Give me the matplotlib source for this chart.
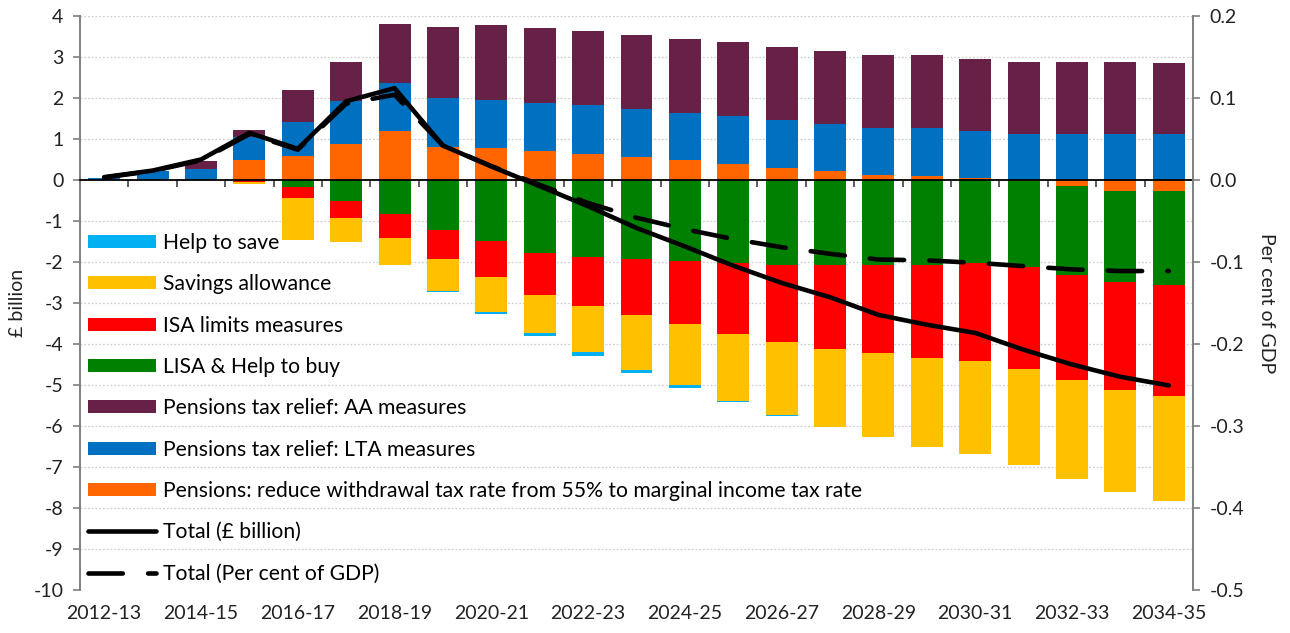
import numpy as np
import matplotlib
matplotlib.use("Agg")
import matplotlib.pyplot as plt

plt.rcParams["font.family"] = ["Lato", "DejaVu Sans"]
plt.rcParams["axes.unicode_minus"] = False

years = [
    "2012-13", "2013-14", "2014-15", "2015-16", "2016-17", "2017-18",
    "2018-19", "2019-20", "2020-21", "2021-22", "2022-23", "2023-24",
    "2024-25", "2025-26", "2026-27", "2027-28", "2028-29", "2029-30",
    "2030-31", "2031-32", "2032-33", "2033-34", "2034-35",
]

# £ billion
help_to_save = [0, 0, 0, 0, 0, 0, 0, -0.02, -0.07, -0.07, -0.10, -0.07,
                -0.07, -0.02, -0.02, 0, 0, 0, 0, 0, 0, 0, 0]
savings_allowance = [0, 0, 0, -0.03, -1.04, -0.58, -0.66, -0.78, -0.85, -0.93,
                     -1.12, -1.34, -1.49, -1.65, -1.78, -1.92, -2.05, -2.16,
                     -2.27, -2.36, -2.43, -2.50, -2.58]
isa_limits = [0, 0, 0, -0.06, -0.25, -0.40, -0.57, -0.71, -0.88, -1.01, -1.20,
              -1.37, -1.54, -1.72, -1.88, -2.03, -2.15, -2.27, -2.39, -2.47,
              -2.56, -2.63, -2.71]
lisa_help_to_buy = [0, 0, 0, 0, -0.18, -0.52, -0.84, -1.21, -1.48, -1.79, -1.87,
                    -1.92, -1.98, -2.03, -2.07, -2.08, -2.08, -2.07, -2.02,
                    -2.11, -2.17, -2.22, -2.29]
pensions_aa = [0, 0, 0.19, 0.16, 0.78, 0.95, 1.43, 1.72, 1.82, 1.82, 1.80, 1.80,
               1.80, 1.80, 1.77, 1.77, 1.77, 1.77, 1.75, 1.75, 1.75, 1.75, 1.72]
pensions_lta = [0.06, 0.22, 0.27, 0.56, 0.83, 1.05, 1.17, 1.19, 1.16, 1.17, 1.19,
                1.17, 1.14, 1.17, 1.17, 1.14, 1.14, 1.17, 1.14, 1.13, 1.13,
                1.13, 1.13]
pensions_withdrawal = [0, 0, 0, 0.50, 0.59, 0.88, 1.20, 0.81, 0.79, 0.71, 0.64,
                       0.57, 0.49, 0.40, 0.30, 0.23, 0.13, 0.10, 0.06, -0.02,
                       -0.14, -0.26, -0.26]
total_bn = [0.07, 0.23, 0.50, 1.15, 0.76, 1.92, 2.24, 0.84, 0.33, -0.15, -0.64,
            -1.17, -1.62, -2.09, -2.51, -2.86, -3.29, -3.53, -3.73, -4.14,
            -4.50, -4.80, -5.01]
# per cent of GDP (right axis)
total_gdp = [0.003, 0.011, 0.024, 0.056, 0.037, 0.093, 0.104, 0.042, 0.017,
             -0.006, -0.028, -0.046, -0.060, -0.072, -0.082, -0.090, -0.097,
             -0.098, -0.101, -0.105, -0.109, -0.111, -0.111]

series = [
    ("Help to save", help_to_save, "#00B0F0"),
    ("Savings allowance", savings_allowance, "#FFC000"),
    ("ISA limits measures", isa_limits, "#FF0000"),
    ("LISA & Help to buy", lisa_help_to_buy, "#008000"),
    ("Pensions tax relief: AA measures", pensions_aa, "#672146"),
    ("Pensions tax relief: LTA measures", pensions_lta, "#0070C0"),
    ("Pensions: reduce withdrawal tax rate from 55% to marginal income tax rate",
     pensions_withdrawal, "#FF6600"),
]
# stacking order outwards from zero
stack_order = [6, 5, 4, 3, 2, 1, 0]

W, H = 1290, 633
fig = plt.figure(figsize=(W / 100, H / 100), dpi=100)
ax = fig.add_axes([80 / W, 1 - 590 / H, 1113 / W, 574 / H])
ax2 = ax.twinx()

x = np.arange(len(years))
pos_base = np.zeros(len(years))
neg_base = np.zeros(len(years))
handles = {}
for i in stack_order:
    label, vals, col = series[i]
    v = np.array(vals, dtype=float)
    bottom = np.where(v >= 0, pos_base, neg_base)
    bars = ax.bar(x, v, 0.66, bottom=bottom, color=col, label=label,
                  linewidth=0, zorder=2)
    handles[i] = bars
    pos_base = pos_base + np.where(v >= 0, v, 0)
    neg_base = neg_base + np.where(v < 0, v, 0)

(l1,) = ax2.plot(x, total_bn, color="black", lw=3.3, solid_capstyle="round",
                 solid_joinstyle="round", label="Total (£ billion)",
                 transform=ax.transData, zorder=4)
(l2,) = ax2.plot(x, total_gdp, color="black", lw=3.3, dashes=(7.5, 5.5),
                 dash_capstyle="round", label="Total (Per cent of GDP)",
                 zorder=3)

ax.set_xlim(-0.5, len(years) - 0.5)
ax.set_ylim(-10, 4)
ax2.set_ylim(-0.5, 0.2)
ax.set_yticks(np.arange(-10, 5, 1))
rticks = np.round(np.arange(-0.5, 0.21, 0.1), 1) + 0.0
ax2.set_yticks(rticks)
ax2.set_yticklabels([f"{t:.1f}" if abs(t) > 1e-9 else "0.0" for t in rticks])

ax.yaxis.grid(True, color="#d0d0d0", linestyle=(0, (1.5, 1.5)), lw=0.9)
ax.set_axisbelow(True)

# x-axis line sits on zero, with ticks at category boundaries
ax.spines["bottom"].set_position(("data", 0))
ax.spines["bottom"].set_color("black")
ax.spines["bottom"].set_linewidth(1.3)
ax.set_xticks([])
ax.set_xticks(np.arange(0.5, len(years) - 1, 1), minor=True)
ax.tick_params(axis="x", which="minor", length=5, width=1.2,
               color="#404040", direction="out")
ax.spines["top"].set_visible(False)
ax2.spines["top"].set_visible(False)
ax2.spines["bottom"].set_visible(False)
ax2.spines["left"].set_visible(False)
ax.spines["right"].set_visible(False)
ax.spines["left"].set_color("#808080")
ax2.spines["right"].set_color("#808080")
ax.spines["left"].set_linewidth(1.4)
ax2.spines["right"].set_linewidth(1.4)

tick_kw = dict(labelsize=14, colors="#222222", length=5, width=1.2,
               direction="out", pad=7)
ax.tick_params(axis="y", **tick_kw)
ax2.tick_params(axis="y", **tick_kw)
ax.tick_params(axis="y", color="#808080")
ax2.tick_params(axis="y", color="#808080")

# year labels along the bottom
bx = ax.secondary_xaxis("bottom")
bx.set_xticks(x[::2])
bx.set_xticklabels(years[::2])
bx.tick_params(axis="x", length=0, labelsize=14, colors="#222222", pad=11)
bx.spines["bottom"].set_visible(False)

ax.set_ylabel("£ billion", fontsize=14, color="#222222", labelpad=5)
ax2.set_ylabel("Per cent of GDP", fontsize=14, color="#222222", rotation=-90,
               labelpad=22)

leg_handles = [handles[i] for i in range(7)] + [l1, l2]
leg_labels = [s[0] for s in series] + [l1.get_label(), l2.get_label()]
ax2.legend(leg_handles, leg_labels, loc="upper left",
           bbox_to_anchor=(8 / 1113, (590 - 233) / 574), frameon=False,
           fontsize=15.2, handlelength=3.2, handleheight=0.55,
           handletextpad=0.33, labelspacing=1.01, borderpad=0, borderaxespad=0)

fig.savefig("out.png", dpi=100)
